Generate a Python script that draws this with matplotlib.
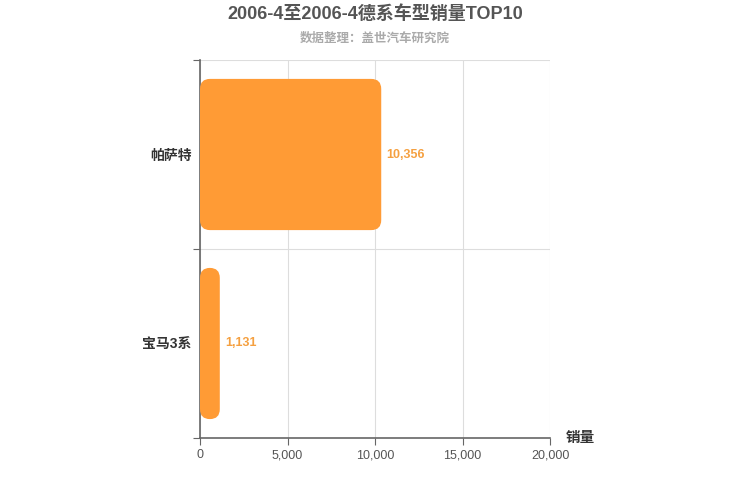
import numpy as np
import matplotlib.pyplot as plt
from matplotlib.patches import FancyBboxPatch

plt.rcParams['font.family'] = ['Liberation Sans', 'Noto Sans CJK SC', 'DejaVu Sans']

# data
models = ['宝马3系', '帕萨特']
sales = [1131, 10356]
xticks = [0, 5000, 10000, 15000, 20000]

fig = plt.figure(figsize=(7.5, 5), dpi=100)
ax = fig.add_axes([200/750, 1 - 438/500, 350/750, 378/500])
ax.set_xlim(0, 20000)
ax.set_ylim(-0.5, 1.5)

# rounded bars
px_x = 20000 / 350
px_y = 2 / 378
bar_h = 0.8
for i, v in enumerate(sales):
    r = min(10 * px_x, v / 2)
    p = FancyBboxPatch((0, i - bar_h / 2), v, bar_h,
                       boxstyle='round,pad=0,rounding_size=%f' % r,
                       mutation_aspect=px_y / px_x,
                       facecolor='#ff9b35', edgecolor='none', zorder=3)
    ax.add_patch(p)
    ax.text(v + 5 * px_x, i, format(v, ','), color='#f5a040', fontsize=9,
            fontweight='bold', va='center', ha='left', zorder=4)

ax.set_yticks([-0.5, 0.5, 1.5], minor=False)
ax.set_yticklabels([])
ax.set_yticks([0, 1], minor=True)
ax.set_yticklabels(models, minor=True)
ax.tick_params(axis='y', which='minor', length=0, pad=6, labelsize=10, labelcolor='#333333')
ax.tick_params(axis='y', which='major', length=5, color='#666666')
for lbl in ax.get_yticklabels(minor=True):
    lbl.set_fontweight('bold')

ax.set_xticks(xticks)
ax.set_xticklabels([format(t, ',') for t in xticks])
ax.tick_params(axis='x', length=5, color='#666666', labelsize=9, labelcolor='#555555', pad=3)

ax.grid(True, which='major', color='#dddddd', linewidth=0.8, zorder=0)
ax.set_axisbelow(True)
for s in ['top', 'right']:
    ax.spines[s].set_visible(False)
ax.spines['left'].set_color('#666666')
ax.spines['bottom'].set_color('#666666')
ax.spines['left'].set_linewidth(1.2)
ax.spines['bottom'].set_linewidth(1.2)

fig.text(580/750, 1 - 438/500, '销量', fontsize=10.5, fontweight='bold', color='#333333',
         ha='center', va='center')
fig.text(0.5, 1 - 14/500, '2006-4至2006-4德系车型销量TOP10', fontsize=13, fontweight='bold',
         color='#555555', ha='center', va='center')
fig.text(0.5, 1 - 39/500, '数据整理：盖世汽车研究院', fontsize=9, fontweight='bold',
         color='#aaaaaa', ha='center', va='center')

plt.savefig('out.png', dpi=100)
